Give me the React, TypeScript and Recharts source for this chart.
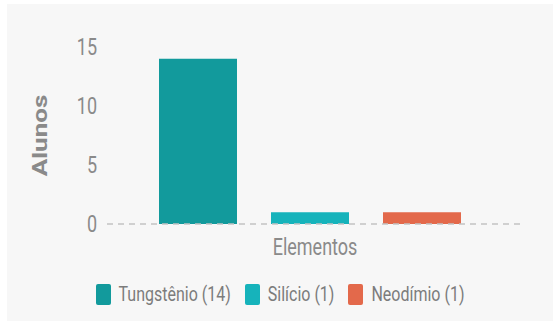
import React from "react";
import { BarChart, Bar, XAxis, YAxis, ReferenceLine } from "recharts";

const category = "Elementos";
const seriesKeys = ["tungstenio", "silicio", "neodimio"];
const seriesNames = ["Tungstênio (14)", "Silício (1)", "Neodímio (1)"];
const seriesValues = [14, 1, 1];
const seriesColors = ["#129a9c", "#16b3bb", "#e3694b"];
const yTicks = [0, 5, 10, 15];

const row: Record<string, string | number> = { name: category };
seriesKeys.forEach((k, i) => {
  row[k] = seriesValues[i];
});
const data = [row];

const textColor = "#8a8a8a";
const stretch = 1.3;

const YTick = ({ x, y, payload }: any) => (
  <text
    transform={`translate(${x},${y}) scale(1,${stretch})`}
    textAnchor="end"
    dominantBaseline="central"
    fontSize={18}
    fill={textColor}
    fontFamily="Roboto"
  >
    {payload.value}
  </text>
);

const XTick = ({ x, y, payload }: any) => (
  <text
    transform={`translate(${x + 5},${y + 15}) scale(1,${stretch})`}
    textAnchor="middle"
    dominantBaseline="central"
    fontSize={18}
    fill={textColor}
    fontFamily="Roboto"
  >
    {payload.value}
  </text>
);

const YLabel = ({ viewBox }: any) => {
  const cx = viewBox.x + 13;
  const cy = viewBox.y + viewBox.height / 2;
  return (
    <text
      transform={`translate(${cx},${cy}) scale(1,${stretch}) rotate(-90)`}
      textAnchor="middle"
      dominantBaseline="central"
      fontSize={20}
      fontWeight="bold"
      fill={textColor}
      fontFamily="Roboto"
    >
      Alunos
    </text>
  );
};

export default function App() {
  return (
    <div
      style={{
        position: "fixed",
        left: 0,
        top: 0,
        width: 553,
        height: 326,
        background: "#ffffff",
        fontFamily: "Roboto",
      }}
    >
      <div
        style={{
          position: "absolute",
          left: 7,
          top: 4,
          width: 546,
          height: 317,
          background: "#f7f7f7",
        }}
      >
        <BarChart
          width={546}
          height={317}
          data={data}
          margin={{ top: 43, right: 28, left: 20, bottom: 67 }}
          barSize={78}
          barGap={34}
        >
          <XAxis
            dataKey="name"
            axisLine={false}
            tickLine={false}
            height={30}
            padding={{ left: 0, right: 12 }}
            tick={<XTick />}
          />
          <YAxis
            width={80}
            domain={[0, 15]}
            ticks={yTicks}
            axisLine={false}
            tickLine={false}
            tickMargin={4}
            tick={<YTick />}
            label={{ content: <YLabel /> }}
          />
          {seriesKeys.map((k, i) => (
            <Bar
              key={k}
              dataKey={k}
              name={seriesNames[i]}
              fill={seriesColors[i]}
              isAnimationActive={false}
            />
          ))}
          <ReferenceLine y={0} stroke="#c4c4c4" strokeWidth={1.5} strokeDasharray="6 5" />
        </BarChart>
        <div
          style={{
            position: "absolute",
            left: 0,
            top: 279,
            width: 546,
            height: 22,
            display: "flex",
            justifyContent: "center",
            alignItems: "center",
          }}
        >
          {seriesNames.map((n, i) => (
            <div
              key={n}
              style={{ display: "flex", alignItems: "center", marginRight: i < seriesNames.length - 1 ? 14 : 0 }}
            >
              <div
                style={{
                  width: 15,
                  height: 21,
                  borderRadius: 2,
                  background: seriesColors[i],
                  marginRight: 8,
                }}
              />
              <span
                style={{
                  fontSize: 16,
                  color: "#7c7c7c",
                  display: "inline-block",
                  transform: `scaleY(${stretch})`,
                  lineHeight: "16px",
                }}
              >
                {n}
              </span>
            </div>
          ))}
        </div>
      </div>
    </div>
  );
}
